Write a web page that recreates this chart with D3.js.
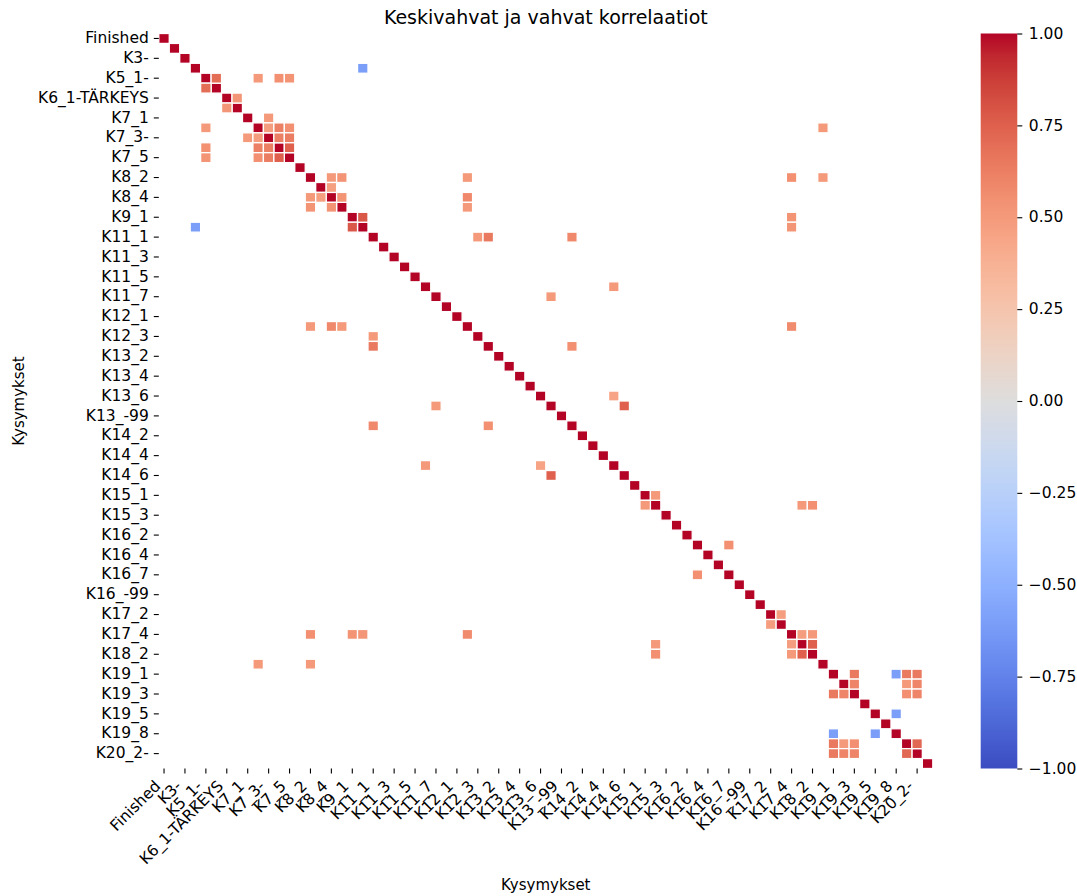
<!DOCTYPE html>
<html>
<head>
<meta charset="utf-8">
<script src="https://cdn.jsdelivr.net/npm/d3@7"></script>
<style>
  html, body { margin: 0; padding: 0; background: #fff; }
  svg { display: block; font-family: "DejaVu Sans", sans-serif; }
</style>
</head>
<body>
<svg id="chart" width="1077" height="896"></svg>
<script>
// Survey items (rows and columns of the correlation matrix)
const items = [
  "Finished", "K2-", "K3-", "K4-", "K5_1-", "K5_2-", "K6_1-TÄRKEYS", "K6_2-TÄRKEYS",
  "K7_1", "K7_2", "K7_3-", "K7_4", "K7_5", "K8_1", "K8_2", "K8_3", "K8_4", "K8_5",
  "K9_1", "K9_2", "K11_1", "K11_2", "K11_3", "K11_4", "K11_5", "K11_6", "K11_7", "K11_8",
  "K12_1", "K12_2", "K12_3", "K13_1", "K13_2", "K13_3", "K13_4", "K13_5", "K13_6", "K13_7",
  "K13_-99", "K14_1", "K14_2", "K14_3", "K14_4", "K14_5", "K14_6", "K14_7",
  "K15_1", "K15_2", "K15_3", "K16_1", "K16_2", "K16_3", "K16_4", "K16_5", "K16_7", "K16_8",
  "K16_-99", "K17_1", "K17_2", "K17_3", "K17_4", "K18_1", "K18_2", "K18_3",
  "K19_1", "K19_2", "K19_3", "K19_4", "K19_5", "K19_6", "K19_8", "K20_1-", "K20_2-", "K20_3-"
];

// Item pairs whose correlation is at least moderate (|r| >= 0.45)
const pairFirst = [
  "K4-", "K5_1-", "K5_1-", "K5_1-", "K5_1-", "K6_1-TÄRKEYS", "K7_1", "K7_2", "K7_2", "K7_2",
  "K7_3-", "K7_3-", "K7_4", "K8_2", "K8_2", "K8_3", "K8_4", "K9_1", "K8_2", "K8_4",
  "K8_5", "K11_1", "K11_1", "K11_1", "K7_2", "K8_2", "K8_2", "K9_1", "K9_2", "K11_6",
  "K11_7", "K13_1", "K13_6", "K13_7", "K15_1", "K15_2", "K15_2", "K12_2", "K16_3", "K17_2",
  "K17_4", "K17_4", "K18_1", "K19_1", "K19_1", "K19_1", "K19_1", "K19_2", "K19_2", "K19_2",
  "K19_3", "K19_3", "K19_5", "K20_1-"
];
const pairSecond = [
  "K9_2", "K5_2-", "K7_2", "K7_4", "K7_5", "K6_2-TÄRKEYS", "K7_3-", "K7_3-", "K7_4", "K7_5",
  "K7_4", "K7_5", "K7_5", "K8_4", "K8_5", "K8_4", "K8_5", "K9_2", "K12_2", "K12_2",
  "K12_2", "K12_3", "K13_1", "K14_1", "K18_3", "K17_4", "K18_3", "K17_4", "K17_4", "K14_5",
  "K13_7", "K14_1", "K14_5", "K14_6", "K15_2", "K18_1", "K18_2", "K17_4", "K16_7", "K17_3",
  "K18_1", "K18_2", "K18_2", "K19_3", "K19_8", "K20_1-", "K20_2-", "K19_3", "K20_1-", "K20_2-",
  "K20_1-", "K20_2-", "K19_8", "K20_2-"
];
const pairR = [
  -0.60, 0.70, 0.50, 0.55, 0.53, 0.52, 0.50, 0.48, 0.62, 0.55,
  0.62, 0.63, 0.75, 0.50, 0.53, 0.47, 0.53, 0.78, 0.50, 0.58,
  0.50, 0.50, 0.65, 0.58, 0.50, 0.55, 0.50, 0.53, 0.52, 0.50,
  0.50, 0.55, 0.45, 0.75, 0.50, 0.50, 0.55, 0.57, 0.55, 0.48,
  0.48, 0.50, 0.75, 0.65, -0.60, 0.65, 0.65, 0.60, 0.50, 0.60,
  0.55, 0.60, -0.60, 0.72
];

// Colour bar tick values
const cbarTicks = [-1, -0.75, -0.5, -0.25, 0, 0.25, 0.5, 0.75, 1];

// Diverging blue–red palette (cool to warm)
const cwStops = [
  [59,76,192],[68,90,204],[77,104,215],[87,117,225],[98,130,234],[108,142,241],[119,154,247],
  [130,165,251],[141,176,254],[152,185,255],[163,194,255],[174,201,253],[184,208,249],
  [194,213,244],[204,217,238],[213,219,230],[221,221,221],[229,216,209],[236,211,197],
  [241,204,185],[245,196,173],[247,187,160],[247,177,148],[247,166,135],[244,154,123],
  [241,141,111],[236,127,99],[229,112,88],[222,96,77],[213,80,66],[203,62,56],[192,40,47],[180,4,38]
].map(c => d3.rgb(c[0], c[1], c[2]).toString());
const color = d3.scaleLinear()
  .domain(d3.range(cwStops.length).map(i => -1 + 2 * i / (cwStops.length - 1)))
  .range(cwStops)
  .interpolate(d3.interpolateRgb)
  .clamp(true);

// Build the symmetric set of visible cells
const cells = items.map(d => ({ row: d, col: d, r: 1 }));
pairR.forEach((r, i) => {
  cells.push({ row: pairFirst[i], col: pairSecond[i], r });
  cells.push({ row: pairSecond[i], col: pairFirst[i], r });
});

const svg = d3.select("#chart");
const plotL = 158.8, plotR = 932.8, plotT = 33.5, plotB = 768.5;

const x = d3.scaleBand().domain(items).range([plotL, plotR]);
const y = d3.scaleBand().domain(items).range([plotT, plotB]);

// Heatmap cells
svg.append("g")
  .selectAll("rect")
  .data(cells)
  .join("rect")
  .attr("x", d => x(d.col))
  .attr("y", d => y(d.row))
  .attr("width", x.bandwidth())
  .attr("height", y.bandwidth())
  .attr("fill", d => color(d.r))
  .attr("stroke", "#fff")
  .attr("stroke-width", 1.3);

const shown = items.filter((d, i) => i % 2 === 0);
const tickLen = 5, tickPad = 5, fontPx = 15.5;

// Y axis
const yAxis = svg.append("g")
  .attr("transform", `translate(${plotL},0)`)
  .call(d3.axisLeft(y).tickValues(shown).tickSize(tickLen).tickPadding(tickPad));
yAxis.select(".domain").remove();
yAxis.selectAll(".tick line").attr("stroke", "#000").attr("stroke-width", 1.1);
yAxis.selectAll(".tick text")
  .attr("font-size", fontPx)
  .attr("font-family", "DejaVu Sans")
  .attr("fill", "#000")
  .attr("dy", "0.3em");

// X axis with slanted labels
const xAxis = svg.append("g")
  .attr("transform", `translate(0,${plotB})`)
  .call(d3.axisBottom(x).tickValues(shown).tickSize(tickLen).tickFormat(""));
xAxis.select(".domain").remove();
xAxis.selectAll(".tick line").attr("stroke", "#000").attr("stroke-width", 1.1);
xAxis.selectAll(".tick")
  .append("text")
  .attr("font-size", fontPx)
  .attr("font-family", "DejaVu Sans")
  .attr("fill", "#000")
  .attr("text-anchor", "end")
  .attr("transform", "translate(-2.6,18.5) rotate(-45)")
  .text(d => d);

// Title and axis titles
svg.append("text")
  .attr("x", (plotL + plotR) / 2).attr("y", 24)
  .attr("text-anchor", "middle")
  .attr("font-size", 19)
  .attr("fill", "#000")
  .text("Keskivahvat ja vahvat korrelaatiot");

svg.append("text")
  .attr("x", (plotL + plotR) / 2).attr("y", 890)
  .attr("text-anchor", "middle")
  .attr("font-size", 15)
  .attr("fill", "#000")
  .text("Kysymykset");

svg.append("text")
  .attr("transform", `translate(24,${(plotT + plotB) / 2}) rotate(-90)`)
  .attr("text-anchor", "middle")
  .attr("font-size", 15)
  .attr("fill", "#000")
  .text("Kysymykset");

// Colour bar
const cbLeft = 980.7, cbRight = 1017.3;
const grad = svg.append("defs").append("linearGradient")
  .attr("id", "cbar").attr("x1", 0).attr("y1", 1).attr("x2", 0).attr("y2", 0);
grad.selectAll("stop")
  .data(cwStops)
  .join("stop")
  .attr("offset", (d, i) => i / (cwStops.length - 1))
  .attr("stop-color", d => d);

svg.append("rect")
  .attr("x", cbLeft).attr("y", plotT)
  .attr("width", cbRight - cbLeft).attr("height", plotB - plotT)
  .attr("fill", "url(#cbar)");

const cScale = d3.scaleLinear().domain([-1, 1]).range([plotB, plotT]);
const cAxis = svg.append("g")
  .attr("transform", `translate(${cbRight},0)`)
  .call(d3.axisRight(cScale).tickValues(cbarTicks).tickSize(tickLen).tickPadding(6.5)
    .tickFormat(d => d3.format(".2f")(d).replace("-", "\u2212")));
cAxis.select(".domain").remove();
cAxis.selectAll(".tick line").attr("stroke", "#000").attr("stroke-width", 1.1);
cAxis.selectAll(".tick text")
  .attr("font-size", fontPx)
  .attr("font-family", "DejaVu Sans")
  .attr("fill", "#000")
  .attr("dy", "0.3em");
</script>
</body>
</html>
